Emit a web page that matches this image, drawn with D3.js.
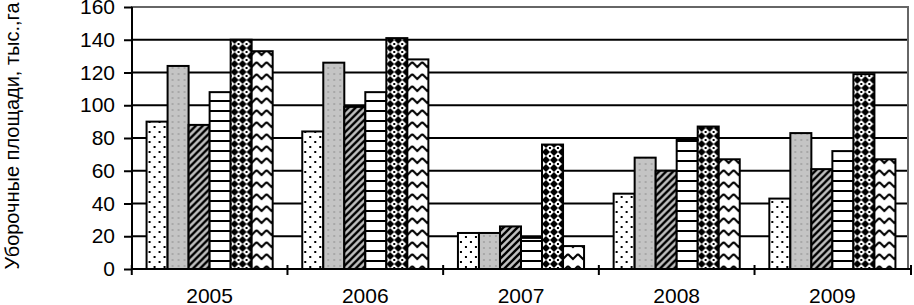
<!DOCTYPE html>
<html><head><meta charset="utf-8">
<script src="https://cdn.jsdelivr.net/npm/d3@7"></script>
<style>body{margin:0;background:#fff}svg{display:block}text{font-family:"Liberation Sans",Arial,sans-serif}</style>
</head><body>
<svg id="c" width="914" height="305"></svg>
<script>
const years = ["2005","2006","2007","2008","2009"];
const seriesKeys = ["s1","s2","s3","s4","s5","s6"];
const s1 = [90, 84, 22, 46, 43];
const s2 = [124, 126, 22, 68, 83];
const s3 = [88, 99, 26, 60, 61];
const s4 = [108, 108, 19, 79, 72];
const s5 = [140, 141, 76, 87, 119];
const s6 = [133, 128, 14, 67, 67];
const yTicks = [0,20,40,60,80,100,120,140,160];
const yLabel = "Уборочные площади, тыс.,га";

const seriesVals = [s1,s2,s3,s4,s5,s6];
const svg = d3.select("#c");
const L = 131, R = 911, T = 7, B = 269;

const x0 = d3.scaleBand().domain(years).range([L, R]).paddingInner(0.19).paddingOuter(0.1);
const x1 = d3.scaleBand().domain(seriesKeys).range([0, x0.bandwidth()]);
const y = d3.scaleLinear().domain([0,160]).range([B, T]);

// patterns
const defs = svg.append("defs");
function pat(id, w, h) {
  return defs.append("pattern").attr("id", id).attr("patternUnits","userSpaceOnUse").attr("width", w).attr("height", h);
}
let p;
p = pat("p1", 10, 10);
p.append("rect").attr("width",10).attr("height",10).attr("fill","#fff");
p.append("rect").attr("x",2).attr("y",1).attr("width",2).attr("height",2).attr("fill","#000");
p.append("rect").attr("x",7).attr("y",6).attr("width",2).attr("height",2).attr("fill","#000");

p = pat("p2", 6, 6);
p.append("rect").attr("width",6).attr("height",6).attr("fill","#c4c4c4");
p.append("rect").attr("x",1).attr("y",1).attr("width",2).attr("height",2).attr("fill","#a8a8a8");

p = pat("p3", 7, 7);
p.append("rect").attr("width",7).attr("height",7).attr("fill","#c0c0c0");
p.append("path").attr("d","M-1,8 L8,-1 M-4,4 L4,-4 M3,11 L11,3").attr("stroke","#000").attr("stroke-width",2.4);

p = pat("p4", 10, 10);
p.append("rect").attr("width",10).attr("height",10).attr("fill","#fff");
p.append("rect").attr("y",0).attr("width",10).attr("height",2).attr("fill","#000");

p = pat("p5", 8, 8);
p.append("rect").attr("width",8).attr("height",8).attr("fill","#000");
p.append("path").attr("d","M4,0 L8,4 L4,8 L0,4 Z").attr("fill","#fff");
p.append("rect").attr("x",3).attr("y",3).attr("width",2).attr("height",2).attr("fill","#000");

p = pat("p6", 10, 12);
p.append("rect").attr("width",10).attr("height",12).attr("fill","#fff");
p.append("path").attr("d","M0,2 L5,7 L10,2").attr("fill","none").attr("stroke","#000").attr("stroke-width",2);

// gridlines
svg.append("g").selectAll("line").data(yTicks.filter(d=>d>0 && d<160)).join("line")
  .attr("x1", L).attr("x2", R - 3).attr("y1", d=>y(d)).attr("y2", d=>y(d))
  .attr("stroke","#000").attr("stroke-width",2);
// plot border top/right
svg.append("path").attr("d",`M${L},${y(160)} L${R-3},${y(160)} L${R-3},${B}`)
  .attr("fill","none").attr("stroke","#666").attr("stroke-width",2);

// bars
const rows = years.map((yr,i)=>({yr, vals: seriesKeys.map((k,j)=>({k, j, v: seriesVals[j][i]}))}));
svg.append("g").selectAll("g").data(rows).join("g")
  .attr("transform", d=>`translate(${x0(d.yr)},0)`)
  .selectAll("rect").data(d=>d.vals).join("rect")
  .attr("x", d=>x1(d.k)).attr("width", x1.bandwidth())
  .attr("y", d=>y(d.v)).attr("height", d=>B - y(d.v))
  .attr("fill", d=>`url(#p${d.j+1})`).attr("stroke","#000").attr("stroke-width",2);

// y axis
const yAxis = d3.axisLeft(y).tickValues(yTicks).tickSize(8).tickPadding(9);
const gy = svg.append("g").attr("transform",`translate(${L+1},0)`).call(yAxis);
gy.select(".domain").attr("stroke","#000").attr("stroke-width",2).attr("d",`M0,${T}V${B+1}`);
gy.selectAll(".tick line").attr("stroke","#000").attr("stroke-width",2);
gy.selectAll(".tick text").attr("font-size",21).attr("fill","#000").attr("font-family",'"Liberation Sans",Arial,sans-serif');

// x axis
const gx = svg.append("g").attr("transform",`translate(0,${B})`);
gx.append("line").attr("x1",L).attr("x2",R).attr("y1",0).attr("y2",0).attr("stroke","#000").attr("stroke-width",2);
const bounds = years.map(d=>x0(d) - x0.step()*x0.paddingInner()/2).concat([R]);
gx.selectAll("line.t").data(bounds).join("line").attr("class","t")
  .attr("x1",d=>d).attr("x2",d=>d).attr("y1",-4).attr("y2",6).attr("stroke","#000").attr("stroke-width",2);
gx.selectAll("text").data(years).join("text")
  .attr("x", d=>x0(d)+x0.bandwidth()/2).attr("y", 34)
  .attr("text-anchor","middle").attr("font-size",21).attr("fill","#000").text(d=>d);

// y label
svg.append("text").attr("transform","translate(19,136) rotate(-90)")
  .attr("text-anchor","middle").attr("font-size",20).attr("fill","#000").text(yLabel);
</script>
</body></html>
